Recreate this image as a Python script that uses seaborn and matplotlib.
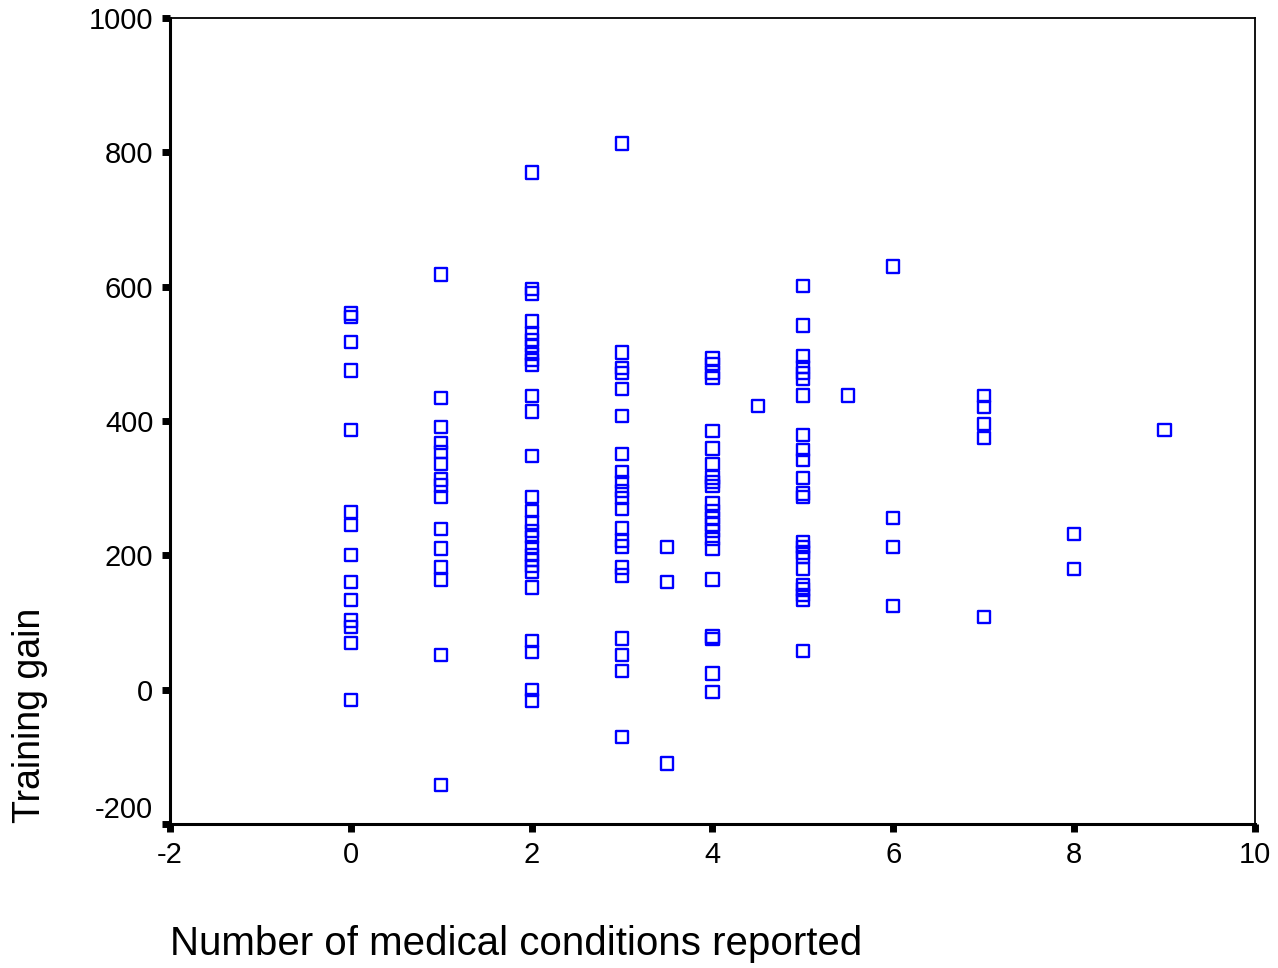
import numpy as np
import pandas as pd
import matplotlib
matplotlib.use('Agg')
import matplotlib.pyplot as plt
import seaborn as sns

# Training gain per number of medical conditions reported
gain_0 = [560, 555, 518, 475, 387, 264, 245, 200, 160, 133, 103, 93, 69, -15]
gain_1 = [618, 434, 391, 367, 354, 336, 313, 304, 287, 239, 210, 182, 164, 52, -142]
gain_2 = [770, 597, 590, 548, 531, 521, 512, 500, 491, 484, 437, 414, 348, 287, 266,
          249, 236, 227, 212, 201, 193, 184, 175, 152, 72, 56, 0, -16]
gain_3 = [813, 502, 479, 471, 448, 407, 351, 324, 309, 296, 285, 269, 240, 222, 213,
          182, 170, 76, 52, 28, -70]
gain_3_5 = [212, 160, -110]
gain_4 = [493, 485, 472, 464, 385, 359, 336, 316, 309, 303, 277, 266, 256, 246, 236,
          224, 210, 164, 79, 75, 24, -4]
gain_4_5 = [422]
gain_5 = [601, 542, 496, 480, 471, 462, 438, 379, 357, 342, 315, 292, 287, 220, 212,
          204, 198, 180, 156, 149, 141, 134, 57]
gain_5_5 = [438]
gain_6 = [630, 256, 212, 124]
gain_7 = [437, 421, 395, 375, 108]
gain_8 = [232, 180]
gain_9 = [387]

conditions = [0, 1, 2, 3, 3.5, 4, 4.5, 5, 5.5, 6, 7, 8, 9]
groups = [gain_0, gain_1, gain_2, gain_3, gain_3_5, gain_4, gain_4_5, gain_5,
          gain_5_5, gain_6, gain_7, gain_8, gain_9]

x_ticks = [-2, 0, 2, 4, 6, 8, 10]
y_ticks = [-200, 0, 200, 400, 600, 800, 1000]

df = pd.DataFrame({
    'conditions': np.repeat(conditions, [len(g) for g in groups]),
    'gain': np.concatenate(groups),
})

sns.set_style('white')
plt.rcParams['font.family'] = ['Liberation Sans', 'DejaVu Sans']
plt.rcParams['axes.unicode_minus'] = False
plt.rcParams['text.color'] = 'black'
plt.rcParams['axes.labelcolor'] = 'black'
plt.rcParams['xtick.color'] = 'black'
plt.rcParams['ytick.color'] = 'black'

fig = plt.figure(figsize=(12.78, 9.68), dpi=100)
ax = fig.add_axes([0.133, 0.1488, 0.849, 0.8326])

sns.scatterplot(data=df, x='conditions', y='gain', marker='s', s=78,
                edgecolor='#0000ff', linewidth=1.7, ax=ax, legend=False)
ax.collections[0].set_facecolor('none')

ax.set_xlim(-2, 10)
ax.set_ylim(-200, 1000)
ax.set_xticks(x_ticks)
ax.set_yticks(y_ticks)
ax.tick_params(axis='both', direction='out', length=6, width=5, color='black',
               labelcolor='black', labelsize=21, pad=6, bottom=True, left=True)

for side in ['top', 'right']:
    ax.spines[side].set_linewidth(1.3)
    ax.spines[side].set_color('black')
for side in ['left', 'bottom']:
    ax.spines[side].set_linewidth(2.2)
    ax.spines[side].set_color('black')

# SPSS style: lowest y label sits just above its tick
ax.get_yticklabels()[0].set_va('bottom')

ax.set_xlabel('Number of medical conditions reported', fontsize=29, loc='left',
              color='black')
ax.xaxis.set_label_coords(0, -0.125)
ax.set_ylabel('Training gain', fontsize=27, color='black')
ax.yaxis.set_label_coords(-0.112, 0.135)

fig.savefig('out.png', dpi=100)
